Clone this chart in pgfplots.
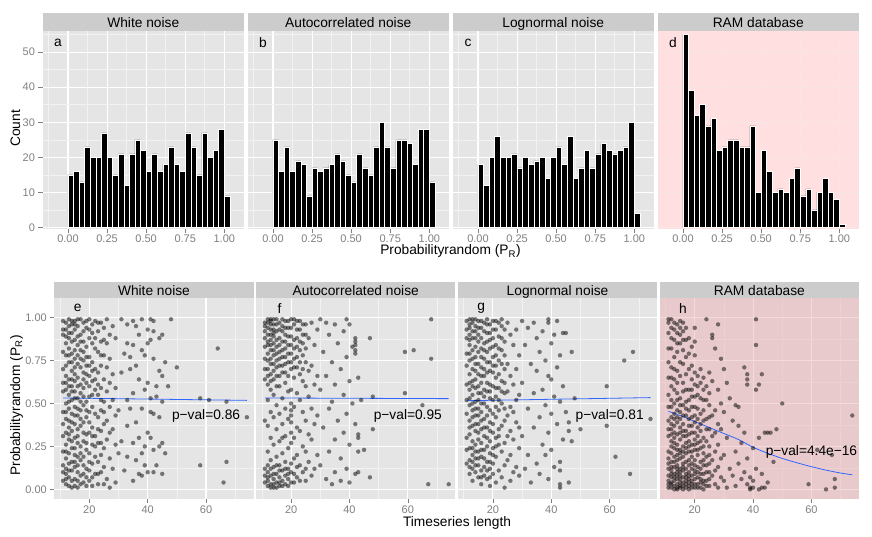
\documentclass[border=0pt]{standalone}
\usepackage{fontspec}
\setmainfont{Liberation Sans}
\usepackage{pgfplots}
\usepackage{pgfplotstable}
\pgfplotsset{compat=1.18}
\definecolor{panelbg}{HTML}{E5E5E5}
\definecolor{stripbg}{HTML}{CCCCCC}
\definecolor{gminor}{HTML}{F2F2F2}
\definecolor{gtick}{HTML}{7F7F7F}
\definecolor{pinkA}{HTML}{FFDFE0}
\definecolor{pinkAgrid}{HTML}{F8E5E5}
\definecolor{pinkB}{HTML}{E8CACC}
\definecolor{pinkBgrid}{HTML}{F4DADB}
\definecolor{pinkBminor}{HTML}{EDD1D2}
\definecolor{fitblue}{HTML}{3366FF}
\newcommand{\basefont}{\fontsize{13.75}{16}\selectfont}
\newcommand{\tickfont}{\fontsize{11}{13}\selectfont}
\pgfplotstableread{
x a b c d
0.0000 15 25 18 55
0.0357 16 16 12 39
0.0714 13 23 20 32
0.1071 23 16 26 35
0.1429 20 19 20 29
0.1786 20 18 20 31
0.2143 27 9 21 22
0.2500 20 17 17 23
0.2857 15 16 20 25
0.3214 21 17 18 25
0.3571 12 18 19 23
0.3929 21 21 20 23
0.4286 25 19 14 29
0.4643 22 15 20 10
0.5000 16 13 23 22
0.5357 21 21 18 16
0.5714 16 17 26 10
0.6071 18 15 14 11
0.6429 23 23 17 10
0.6786 18 30 22 14
0.7143 16 23 17 17
0.7500 27 17 21 9
0.7857 23 25 24 11
0.8214 15 25 22 5
0.8571 27 24 21 10
0.8929 20 18 22 14
0.9286 22 28 23 10
0.9643 28 28 30 8
1.0000 9 13 4 1
1.0357 0 0 0 0
}\hist
\pgfplotsset{
  gg/.style={
    scale only axis,
    axis background/.style={fill=panelbg},
    axis line style={draw=none},
    grid=both,
    major grid style={white, line width=1.1pt},
    minor grid style={gminor, line width=0.55pt},
    tick align=outside,
    major tick length=4pt, minor tick length=0pt,
    tick style={gtick, line width=0.6pt},
    xtick pos=bottom, ytick pos=left,
    tick label style={font=\tickfont, text=gtick},
    /pgf/number format/assume math mode=true,
  },
  toppan/.style={gg, width=201.5pt, height=198.3pt, xmin=-0.163, xmax=1.126, ymin=-0.5, ymax=56,
    xtick={0,0.25,0.5,0.75,1}, xticklabels={0.00,0.25,0.50,0.75,1.00},
    xticklabel style={yshift=2.5pt},
    minor xtick={-0.125,0.125,0.375,0.625,0.875},
    ytick={0,10,20,30,40,50}, yticklabels={0,10,20,30,40,50}, minor ytick={5,15,25,35,45,55}},
  botpan/.style={gg, width=199.3pt, height=200.7pt, xmin=8, xmax=76.3, ymin=-0.056, ymax=1.112,
    xtick={20,40,60}, xticklabels={20,40,60}, minor xtick={10,30,50,70},
    xticklabel style={yshift=1pt},
    ytick={0,0.25,0.5,0.75,1}, yticklabels={0.00,0.25,0.50,0.75,1.00},
    minor ytick={0.125,0.375,0.625,0.875}},
  noy/.style={yticklabels={}, ytick style={draw=none}},
  bars/.style={ybar interval, fill=black, draw=white, line width=0.5pt},
  pts/.style={only marks, mark=*, mark size=2.2pt,
    mark options={draw=black, line width=0pt, draw opacity=0, fill=black, fill opacity=0.5}},
  fit/.style={fitblue, line width=0.8pt, no marks, smooth},
}
\begin{document}
\begin{tikzpicture}
\path[use as bounding box] (0,0) rectangle (872pt,537pt);
% ---------- top row ----------
\begin{axis}[toppan, name=pa, at={(42.5pt,307.7pt)}, anchor=south west]
\addplot[bars] table[x=x,y=a]{\hist};
\node[font=\basefont] at (axis cs:-0.064,52.7) {a};
\end{axis}
\begin{axis}[toppan, noy, name=pb, at={(247.5pt,307.7pt)}, anchor=south west]
\addplot[bars] table[x=x,y=b]{\hist};
\node[font=\basefont] at (axis cs:-0.064,52.7) {b};
\end{axis}
\begin{axis}[toppan, noy, name=pc, at={(452.5pt,307.7pt)}, anchor=south west]
\addplot[bars] table[x=x,y=c]{\hist};
\node[font=\basefont] at (axis cs:-0.064,52.7) {c};
\end{axis}
\begin{axis}[toppan, noy, name=pd, at={(657.5pt,307.7pt)}, anchor=south west,
  axis background/.style={fill=pinkA}, major grid style={pinkAgrid, line width=1.1pt}, minor grid style={pinkA, line width=0.5pt}]
\addplot[bars] table[x=x,y=d]{\hist};
\node[font=\basefont] at (axis cs:-0.064,52.7) {d};
\end{axis}
% ---------- bottom row ----------
\begin{axis}[botpan, name=pe, at={(54.3pt,38pt)}, anchor=south west]
\addplot[pts] coordinates {
(11,.98)(11,.90)(11,.80)(11,.70)(11,.62)(11,.45)(11,.31)(11,.22)(11,.14)(11,.05)
(12,.97)(12,.93)(12,.85)(12,.78)(12,.72)(12,.66)(12,.58)(12,.50)(12,.41)(12,.33)(12,.26)(12,.18)(12,.12)(12,.09)(12,.03)
(13,.99)(13,.95)(13,.88)(13,.82)(13,.74)(13,.64)(13,.55)(13,.47)(13,.40)(13,.36)(13,.29)(13,.21)(13,.15)(13,.07)(13,.02)
(14,.96)(14,.91)(14,.86)(14,.79)(14,.69)(14,.60)(14,.57)(14,.52)(14,.44)(14,.34)(14,.24)(14,.16)(14,.11)(14,.05)
(15,.98)(15,.93)(15,.87)(15,.76)(15,.67)(15,.63)(15,.57)(15,.48)(15,.38)(15,.30)(15,.20)(15,.13)(15,.06)
(16,.95)(16,.89)(16,.84)(16,.73)(16,.65)(16,.53)(16,.43)(16,.35)(16,.27)(16,.19)(16,.10)(16,.01)
(17,.99)(17,.90)(17,.81)(17,.71)(17,.61)(17,.56)(17,.46)(17,.37)(17,.25)(17,.17)(17,.08)
(18,.97)(18,.86)(18,.80)(18,.75)(18,.68)(18,.59)(18,.49)(18,.39)(18,.28)(18,.14)(18,.04)
(19,.94)(19,.83)(19,.72)(19,.62)(19,.51)(19,.42)(19,.32)(19,.23)(19,.12)(19,.02)
(20,.99)(20,.88)(20,.77)(20,.66)(20,.60)(20,.54)(20,.45)(20,.33)(20,.21)(20,.11)(20,.05)
(21,.96)(21,.85)(21,.74)(21,.63)(21,.48)(21,.36)(21,.26)(21,.15)(21,.07)
(22,.98)(22,.82)(22,.70)(22,.58)(22,.44)(22,.31)(22,.19)(22,.09)
(23,.92)(23,.80)(23,.68)(23,.55)(23,.42)(23,.27)(23,.16)(23,.03)
(24,.97)(24,.86)(24,.72)(24,.59)(24,.46)(24,.34)(24,.20)(24,.10)
(25,.94)(25,.78)(25,.64)(25,.51)(25,.38)(25,.24)(25,.13)
(26,.99)(26,.85)(26,.71)(26,.57)(26,.40)(26,.29)(26,.06)
(27,.90)(27,.76)(27,.62)(27,.48)(27,.33)(27,.18)(27,.01)
(28,.95)(28,.67)(28,.52)(28,.35)(28,.12)
(29,.88)(29,.59)(29,.43)(29,.26)(29,.04)
(11,.93)(11,.57)(11,.38)(11,.10)(12,.89)(12,.62)(12,.45)(12,.22)(12,.06)(13,.91)(13,.78)(13,.60)(13,.51)(13,.32)(13,.11)
(14,.98)(14,.74)(14,.64)(14,.39)(14,.28)(14,.01)(15,.96)(15,.81)(15,.71)(15,.53)(15,.43)(15,.24)(15,.16)(15,.02)
(16,.99)(16,.78)(16,.60)(16,.47)(16,.31)(16,.14)(16,.05)(17,.86)(17,.76)(17,.51)(17,.41)(17,.21)(17,.03)
(18,.92)(18,.64)(18,.54)(18,.33)(18,.19)(18,.09)(19,.98)(19,.77)(19,.67)(19,.46)(19,.27)(19,.07)
(20,.93)(20,.72)(20,.39)(20,.16)(21,.91)(21,.69)(21,.55)(21,.31)(21,.02)(22,.88)(22,.64)(22,.25)
(23,.97)(23,.61)(23,.35)(23,.09)(24,.78)(24,.52)(24,.27)(25,.87)(25,.45)(25,.03)
(30,.46)(30,.21)(31,.99)(31,.68)(31,.28)(32,.79)(32,.11)(33,.96)(33,.85)(33,.52)(33,.37)(33,.19)
(34,.77)(34,.70)(34,.47)(35,.98)(35,.84)(35,.56)(35,.27)(35,.05)(36,.95)(36,.72)(36,.39)(36,.17)
(37,.90)(37,.64)(37,.30)(37,.09)(38,.99)(38,.81)(38,.47)(38,.21)(38,.08)(39,.78)(39,.58)(39,.25)(39,.14)
(40,.93)(40,.85)(40,.62)(40,.33)(40,.10)(41,.99)(41,.87)(41,.53)(41,.45)(41,.30)
(42,.98)(42,.92)(42,.76)(42,.44)(42,.23)(42,.10)(43,.60)(43,.54)(43,.14)(44,.88)(44,.42)(44,.25)(44,.69)
(45,.90)(45,.66)(45,.51)(45,.27)(45,.09)(46,.74)(46,.21)(47,.60)(48,.99)(50,.71)
(58,.53)(58,.14)(61,.52)(64,.82)(66,.04)(67,.51)(67,.16)(74,.42)
};
\addplot[fit] coordinates {(11,0.532)(74,0.518)};
\node[font=\basefont] at (axis cs:16,1.054) {e};
\node[font=\basefont] at (axis cs:60,0.43) {p−val=0.86};
\end{axis}
\begin{axis}[botpan, noy, name=pf, at={(256.1pt,38pt)}, anchor=south west]
\addplot[pts] coordinates {
(11,.97)(11,.95)(11,.88)(11,.76)(11,.64)(11,.40)(11,.12)(11,.04)
(12,.99)(12,.94)(12,.90)(12,.86)(12,.84)(12,.79)(12,.70)(12,.61)(12,.52)(12,.37)(12,.22)(12,.10)(12,.05)(12,.02)
(13,.98)(13,.96)(13,.93)(13,.87)(13,.81)(13,.76)(13,.73)(13,.67)(13,.58)(13,.45)(13,.30)(13,.17)(13,.08)(13,.03)
(14,.96)(14,.91)(14,.89)(14,.85)(14,.78)(14,.69)(14,.55)(14,.42)(14,.26)(14,.13)(14,.06)(14,.01)
(15,.99)(15,.92)(15,.83)(15,.75)(15,.71)(15,.66)(15,.49)(15,.35)(15,.19)(15,.09)(15,.04)
(16,.97)(16,.88)(16,.80)(16,.72)(16,.60)(16,.44)(16,.28)(16,.14)(16,.07)(16,.02)
(17,.95)(17,.92)(17,.86)(17,.77)(17,.68)(17,.53)(17,.38)(17,.21)(17,.11)(17,.05)
(18,.98)(18,.90)(18,.82)(18,.73)(18,.62)(18,.47)(18,.31)(18,.16)(18,.08)(18,.03)
(19,.94)(19,.84)(19,.74)(19,.57)(19,.41)(19,.24)(19,.12)(19,.06)
(20,.99)(20,.89)(20,.79)(20,.70)(20,.58)(20,.50)(20,.46)(20,.43)(20,.39)(20,.33)(20,.27)(20,.15)(20,.04)
(21,.96)(21,.87)(21,.76)(21,.65)(21,.48)(21,.30)(21,.18)(21,.09)
(22,.93)(22,.83)(22,.71)(22,.56)(22,.36)(22,.20)(22,.07)
(23,.98)(23,.81)(23,.67)(23,.52)(23,.34)(23,.14)
(24,.90)(24,.78)(24,.63)(24,.45)(24,.25)(24,.10)
(25,.96)(25,.74)(25,.60)(25,.40)(25,.22)(25,.05)
(26,.88)(26,.69)(26,.54)(26,.32)(26,.16)
(27,.97)(27,.72)(27,.47)(27,.29)(27,.08)
(28,.84)(28,.61)(28,.38)(28,.12)
(29,.93)(29,.66)(29,.43)(29,.20)
(11,.92)(11,.83)(11,.70)(11,.08)(12,.97)(12,.75)(12,.66)(12,.14)(12,.07)(13,.99)(13,.90)(13,.84)(13,.63)(13,.12)(13,.01)
(14,.99)(14,.93)(14,.81)(14,.73)(14,.64)(14,.09)(14,.03)(15,.96)(15,.87)(15,.79)(15,.60)(15,.14)(15,.01)
(16,.93)(16,.84)(16,.76)(16,.66)(16,.04)(16,.11)(17,.99)(17,.81)(17,.72)(17,.02)(17,.30)
(18,.94)(18,.86)(18,.77)(18,.68)(18,.12)(19,.98)(19,.89)(19,.79)(19,.66)(19,.02)(19,.09)
(20,.94)(20,.84)(20,.74)(20,.10)(21,.99)(21,.82)(21,.71)(21,.04)(22,.98)(22,.88)(22,.77)(22,.13)
(23,.93)(23,.86)(23,.74)(23,.05)(24,.96)(24,.85)(24,.70)(25,.90)(25,.82)(25,.12)
(30,.99)(30,.58)(30,.14)(31,.80)(31,.36)(32,.97)(32,.66)(32,.06)(33,.90)(33,.47)(33,.22)
(34,.74)(34,.51)(34,.03)(35,.96)(35,.61)(35,.29)(35,.10)(36,.85)(36,.40)(37,.70)(37,.18)(37,.05)
(38,.92)(38,.55)(38,.33)(39,.99)(39,.77)(39,.44)(39,.12)(40,.96)(40,.63)(40,.26)(40,.04)
(41,.83)(41,.50)(42,.88)(42,.86)(42,.84)(42,.81)(42,.79)(42,.38)(42,.09)
(43,.65)(43,.32)(43,.30)(43,.22)(43,.10)(44,.52)(45,.23)(47,.88)(47,.07)(48,.54)(48,.35)
(59,.80)(59,.56)(62,.81)(65,.49)(67,.03)(68,.99)(68,.76)(74,.03)
};
\addplot[fit] coordinates {(11,0.532)(74,0.528)};
\node[font=\basefont] at (axis cs:16,1.054) {f};
\node[font=\basefont] at (axis cs:60,0.43) {p−val=0.95};
\end{axis}
\begin{axis}[botpan, noy, name=pg, at={(457.9pt,38pt)}, anchor=south west]
\addplot[pts] coordinates {
(11,.98)(11,.93)(11,.79)(11,.72)(11,.61)(11,.44)(11,.30)(11,.15)
(12,.96)(12,.90)(12,.87)(12,.84)(12,.75)(12,.67)(12,.58)(12,.53)(12,.49)(12,.40)(12,.32)(12,.24)(12,.17)(12,.09)
(13,.99)(13,.97)(13,.92)(13,.81)(13,.70)(13,.63)(13,.55)(13,.46)(13,.42)(13,.37)(13,.28)(13,.20)(13,.12)(13,.05)
(14,.95)(14,.88)(14,.83)(14,.77)(14,.69)(14,.64)(14,.59)(14,.51)(14,.43)(14,.34)(14,.26)(14,.18)(14,.10)
(15,.98)(15,.90)(15,.86)(15,.73)(15,.60)(15,.52)(15,.47)(15,.38)(15,.29)(15,.22)(15,.14)(15,.07)
(16,.94)(16,.82)(16,.71)(16,.62)(16,.56)(16,.45)(16,.35)(16,.27)(16,.19)(16,.11)(16,.03)
(17,.97)(17,.85)(17,.76)(17,.66)(17,.58)(17,.50)(17,.41)(17,.31)(17,.23)(17,.13)(17,.08)
(18,.99)(18,.91)(18,.80)(18,.68)(18,.57)(18,.48)(18,.36)(18,.25)(18,.16)(18,.06)
(19,.96)(19,.87)(19,.74)(19,.61)(19,.53)(19,.39)(19,.28)(19,.21)(19,.12)(19,.02)
(20,.93)(20,.83)(20,.72)(20,.68)(20,.60)(20,.44)(20,.33)(20,.24)(20,.15)(20,.09)
(21,.98)(21,.78)(21,.65)(21,.54)(21,.42)(21,.30)(21,.19)(21,.04)
(22,.89)(22,.75)(22,.59)(22,.46)(22,.35)(22,.26)(22,.11)
(23,.95)(23,.81)(23,.63)(23,.50)(23,.37)(23,.22)(23,.07)
(24,.86)(24,.70)(24,.56)(24,.40)(24,.27)(24,.14)(24,.01)
(25,.97)(25,.73)(25,.57)(25,.43)(25,.31)(25,.17)
(26,.90)(26,.66)(26,.48)(26,.34)(26,.20)(26,.05)
(27,.84)(27,.61)(27,.45)(27,.29)(27,.10)
(28,.93)(28,.70)(28,.52)(28,.39)(28,.13)
(29,.78)(29,.55)(29,.36)(29,.24)(29,.08)
(11,.88)(11,.52)(11,.23)(12,.99)(12,.94)(12,.79)(12,.62)(12,.36)(12,.13)(13,.88)(13,.76)(13,.60)(13,.50)(13,.24)(13,.16)
(14,.99)(14,.92)(14,.73)(14,.47)(14,.38)(14,.22)(14,.14)(15,.94)(15,.80)(15,.67)(15,.56)(15,.43)(15,.33)(15,.18)
(16,.98)(16,.88)(16,.77)(16,.66)(16,.50)(16,.40)(16,.23)(16,.07)(17,.92)(17,.81)(17,.70)(17,.54)(17,.36)(17,.18)
(18,.96)(18,.86)(18,.74)(18,.62)(18,.43)(18,.30)(18,.11)(19,.91)(19,.82)(19,.69)(19,.57)(19,.46)(19,.34)(19,.16)(19,.07)
(20,.98)(20,.88)(20,.77)(20,.52)(20,.38)(20,.20)(21,.93)(21,.84)(21,.72)(21,.59)(21,.48)(21,.25)
(22,.97)(22,.82)(22,.67)(22,.52)(22,.31)(23,.99)(23,.88)(23,.73)(23,.57)(24,.93)(24,.78)(24,.62)(24,.47)
(30,.98)(30,.62)(30,.31)(31,.84)(31,.12)(32,.94)(32,.47)(32,.20)(33,.73)(33,.04)
(34,.97)(34,.56)(34,.36)(35,.88)(35,.69)(35,.15)(36,.80)(36,.42)(36,.09)(37,.92)(37,.58)(37,.26)
(38,.75)(38,.49)(38,.20)(39,.99)(39,.97)(39,.66)(39,.33)(39,.06)(40,.85)(40,.64)(40,.44)(40,.23)
(41,.90)(41,.54)(41,.13)(42,.98)(42,.71)(42,.38)(43,.78)(43,.51)(43,.16)(43,.11)(43,.03)(43,.01)
(44,.91)(44,.60)(44,.29)(45,.91)(45,.45)(46,.39)(46,.34)(46,.04)(47,.80)(47,.28)(48,.53)(50,.35)
(59,.60)(59,.37)(62,.19)(65,.75)(67,.09)(68,.80)(74,.41)
};
\addplot[fit] coordinates {(11,0.516)(74,0.534)};
\node[font=\basefont] at (axis cs:16,1.054) {g};
\node[font=\basefont] at (axis cs:60,0.43) {p−val=0.81};
\end{axis}
\begin{axis}[botpan, noy, name=ph, at={(659.7pt,38pt)}, anchor=south west,
  axis background/.style={fill=pinkB}, major grid style={pinkBgrid, line width=1.1pt}, minor grid style={pinkBminor, line width=0.55pt}]
\addplot[pts] coordinates {
(11,.97)(11,.82)(11,.65)(11,.55)(11,.40)(11,.31)(11,.22)(11,.15)(11,.08)(11,.03)
(12,.99)(12,.88)(12,.71)(12,.60)(12,.52)(12,.48)(12,.42)(12,.35)(12,.28)(12,.25)(12,.21)(12,.16)(12,.11)(12,.07)(12,.04)(12,.01)
(13,.93)(13,.77)(13,.64)(13,.58)(13,.50)(13,.44)(13,.37)(13,.33)(13,.30)(13,.24)(13,.19)(13,.13)(13,.09)(13,.05)(13,.02)
(14,.96)(14,.85)(14,.69)(14,.56)(14,.46)(14,.39)(14,.32)(14,.26)(14,.20)(14,.17)(14,.14)(14,.10)(14,.06)(14,.03)(14,.00)
(15,.98)(15,.90)(15,.74)(15,.53)(15,.45)(15,.41)(15,.36)(15,.29)(15,.23)(15,.18)(15,.12)(15,.08)(15,.04)(15,.01)
(16,.92)(16,.81)(16,.62)(16,.57)(16,.49)(16,.38)(16,.31)(16,.25)(16,.19)(16,.15)(16,.11)(16,.07)(16,.02)
(17,.87)(17,.67)(17,.51)(17,.43)(17,.34)(17,.27)(17,.21)(17,.16)(17,.09)(17,.05)(17,.01)
(18,.79)(18,.58)(18,.46)(18,.37)(18,.32)(18,.28)(18,.22)(18,.14)(18,.10)(18,.06)(18,.02)
(19,.72)(19,.64)(19,.54)(19,.42)(19,.33)(19,.26)(19,.19)(19,.12)(19,.08)(19,.03)
(20,.94)(20,.86)(20,.68)(20,.61)(20,.48)(20,.39)(20,.29)(20,.23)(20,.17)(20,.11)(20,.06)(20,.01)
(21,.66)(21,.55)(21,.47)(21,.36)(21,.27)(21,.20)(21,.13)(21,.07)(21,.03)
(22,.70)(22,.62)(22,.44)(22,.34)(22,.24)(22,.16)(22,.09)(22,.04)
(23,.65)(23,.52)(23,.40)(23,.30)(23,.21)(23,.14)(23,.05)(23,.00)
(24,.99)(24,.60)(24,.41)(24,.28)(24,.19)(24,.10)(24,.02)
(25,.68)(25,.49)(25,.35)(25,.25)(25,.15)(25,.06)
(26,.90)(26,.88)(26,.63)(26,.43)(26,.31)(26,.17)(26,.08)
(27,.82)(27,.46)(27,.33)(27,.22)(27,.11)(27,.03)
(28,.96)(28,.58)(28,.38)(28,.26)(28,.13)(28,.01)
(29,.76)(29,.50)(29,.35)(29,.18)(29,.07)
(11,.99)(11,.91)(11,.74)(11,.48)(11,.35)(11,.18)(11,.12)(11,.05)(11,.01)(12,.94)(12,.82)(12,.65)(12,.38)(12,.32)(12,.13)(12,.09)(12,.03)
(13,.97)(13,.87)(13,.70)(13,.41)(13,.27)(13,.16)(13,.07)(13,.00)(14,.91)(14,.80)(14,.62)(14,.52)(14,.42)(14,.23)(14,.12)(14,.08)(14,.01)
(15,.94)(15,.85)(15,.66)(15,.49)(15,.33)(15,.21)(15,.10)(15,.06)(15,.02)(16,.97)(16,.87)(16,.73)(16,.43)(16,.34)(16,.22)(16,.13)(16,.04)(16,.00)
(17,.94)(17,.77)(17,.58)(17,.47)(17,.31)(17,.24)(17,.12)(17,.07)(17,.03)(18,.88)(18,.70)(18,.52)(18,.41)(18,.25)(18,.17)(18,.08)(18,.04)(18,.00)
(19,.83)(19,.58)(19,.48)(19,.37)(19,.22)(19,.15)(19,.05)(19,.01)(20,.78)(20,.54)(20,.43)(20,.33)(20,.26)(20,.14)(20,.09)(20,.03)
(21,.60)(21,.41)(21,.31)(21,.23)(21,.10)(21,.01)(22,.53)(22,.38)(22,.28)(22,.12)(22,.06)(22,.01)
(23,.58)(23,.46)(23,.25)(23,.17)(23,.09)(23,.03)(24,.52)(24,.35)(24,.14)(24,.05)(25,.56)(25,.42)(25,.20)(25,.10)(25,.02)
(30,.70)(30,.45)(30,.20)(30,.05)(31,.62)(31,.30)(31,.01)(32,.53)(32,.12)(33,.40)(33,.08)
(34,.49)(34,.22)(34,.02)(35,.48)(35,.37)(35,.15)(36,.27)(36,.06)(37,.71)(37,.33)(37,.10)
(38,.67)(38,.64)(38,.61)(38,.18)(38,.03)(39,.07)(39,.01)(39,.00)(40,.24)(40,.05)(40,.01)
(41,.99)(41,.84)(41,.58)(41,.12)(42,.61)(42,.30)(42,.00)(43,.67)(43,.09)(43,.01)(44,.33)(44,.01)
(45,.33)(45,.04)(46,.33)(47,.16)(48,.35)(50,.50)(59,.03)(62,.23)(65,.00)(67,.20)(68,.06)(68,.01)(74,.43)
};
\addplot[fit] coordinates {(11,0.454)(15,0.43)(20,0.395)(25,0.36)(30,0.325)(35,0.29)(40,0.245)(45,0.21)(50,0.18)(55,0.155)(60,0.132)(65,0.112)(70,0.095)(74,0.085)};
\node[font=\basefont] at (axis cs:16,1.054) {h};
\node[font=\basefont] at (axis cs:60,0.22) {p−val=4.4e−16};
\end{axis}
% ---------- strips ----------
\foreach \p/\t in {pa/White noise,pb/Autocorrelated noise,pc/Lognormal noise,pd/RAM database}{
  \fill[stripbg] (\p.north west) rectangle ([yshift=17.7pt]\p.north east);
  \node[font=\basefont, anchor=base] at ([yshift=3.6pt]\p.north) {\t};
}
\foreach \p/\t in {pe/White noise,pf/Autocorrelated noise,pg/Lognormal noise,ph/RAM database}{
  \fill[stripbg] (\p.north west) rectangle ([yshift=16.3pt]\p.north east);
  \node[font=\basefont, anchor=base] at ([yshift=3.2pt]\p.north) {\t};
}
% ---------- axis titles ----------
\node[font=\basefont, rotate=90, anchor=base] at (20pt,408.5pt) {Count};
\node[font=\basefont, anchor=base] at (450.5pt,282pt) {Probabilityrandom (P\textsubscript{R})};
\node[font=\basefont, rotate=90, anchor=base] at (20pt,131.5pt) {Probabilityrandom (P\textsubscript{R})};
\node[font=\basefont, anchor=base] at (457pt,10.3pt) {Timeseries length};
\end{tikzpicture}
\end{document}
